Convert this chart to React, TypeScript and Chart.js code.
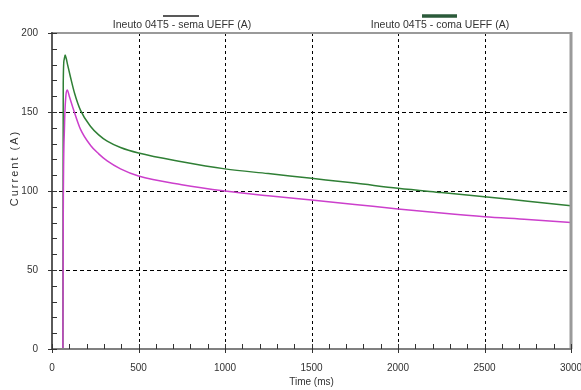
import React, { useEffect, useRef } from "react";
import { Chart, registerables } from "chart.js";

Chart.register(...registerables);

const legendLabels = ["Ineuto 04T5 - sema UEFF (A)", "Ineuto 04T5 - coma UEFF (A)"];
const xTitle = "Time (ms)";
const yTitle = "Current (A)";

const semTime = [60, 63, 65, 72, 80, 88, 100, 126, 165, 222, 270, 319, 396, 500, 750, 1000, 1250, 1500, 1750, 2000, 2250, 2500, 2750, 3000];
const semValues = [0, 0, 83, 140, 160, 164, 160, 151, 139, 129, 123.5, 119, 114, 109.5, 104, 100, 97, 94.3, 91.5, 88.6, 86, 83.7, 82, 80];

const comTime = [60, 63, 65, 70, 76, 82, 90, 107, 130, 165, 222, 270, 319, 396, 500, 750, 1000, 1250, 1500, 1750, 2000, 2250, 2500, 2750, 3000];
const comValues = [0, 0, 168, 183, 186, 184, 180, 172, 162, 151, 141, 135.5, 131.5, 127.5, 124, 118.5, 114, 111, 108, 105, 101.7, 99, 96.4, 93.5, 90.7];

const xMax = 3000;
const yMax = 200;
const xMajor = 500;
const yMajor = 50;
const xMinor = 100;
const yMinor = 10;

const FONT = "'Liberation Sans', Arial, sans-serif";

const framePlugin = {
  id: "frame",
  beforeDatasetsDraw(chart: any) {
    const { ctx, chartArea: a, scales } = chart;
    const xs = scales.x, ys = scales.y;
    ctx.save();
    ctx.strokeStyle = "#000";
    ctx.lineWidth = 1;
    ctx.setLineDash([3, 3]);
    for (let v = xMajor; v < xMax; v += xMajor) {
      const px = Math.round(xs.getPixelForValue(v)) + 0.5;
      ctx.beginPath();
      ctx.moveTo(px, a.top);
      ctx.lineTo(px, a.bottom);
      ctx.stroke();
    }
    ctx.setLineDash([4, 3]);
    for (let v = yMajor; v < yMax; v += yMajor) {
      const py = Math.round(ys.getPixelForValue(v)) + 0.5;
      ctx.beginPath();
      ctx.moveTo(a.left, py);
      ctx.lineTo(a.right, py);
      ctx.stroke();
    }
    ctx.restore();
  },
  afterDatasetsDraw(chart: any) {
    const { ctx, chartArea: a, scales } = chart;
    const xs = scales.x, ys = scales.y;
    ctx.save();
    // borders
    ctx.strokeStyle = "#9a9a9a";
    ctx.lineWidth = 2;
    ctx.beginPath();
    ctx.moveTo(a.left, a.top);
    ctx.lineTo(a.right, a.top);
    ctx.stroke();
    ctx.lineWidth = 3;
    ctx.beginPath();
    ctx.moveTo(a.right, a.top - 1);
    ctx.lineTo(a.right, a.bottom);
    ctx.stroke();
    ctx.strokeStyle = "#808080";
    ctx.lineWidth = 2;
    ctx.beginPath();
    ctx.moveTo(a.left, a.bottom);
    ctx.lineTo(a.right, a.bottom);
    ctx.stroke();
    ctx.strokeStyle = "#5a5a5a";
    ctx.beginPath();
    ctx.moveTo(a.left, a.top - 1);
    ctx.lineTo(a.left, a.bottom + 1);
    ctx.stroke();
    // ticks
    ctx.strokeStyle = "#333";
    ctx.lineWidth = 1;
    for (let v = 0; v <= xMax; v += xMinor) {
      const px = Math.round(xs.getPixelForValue(v)) + 0.5;
      const major = v % xMajor === 0;
      ctx.beginPath();
      ctx.moveTo(px, a.bottom - 5);
      ctx.lineTo(px, a.bottom + (major ? 4 : 0));
      ctx.stroke();
    }
    for (let v = 0; v <= yMax; v += yMinor) {
      const py = Math.round(ys.getPixelForValue(v)) + 0.5;
      const major = v % yMajor === 0;
      ctx.beginPath();
      ctx.moveTo(a.left - (major ? 4 : 0), py);
      ctx.lineTo(a.left + 5, py);
      ctx.stroke();
    }
    // axis titles
    ctx.fillStyle = "#333";
    ctx.font = `10px ${FONT}`;
    ctx.textAlign = "center";
    ctx.textBaseline = "middle";
    ctx.fillText(xTitle, xs.getPixelForValue(1500), 382);
    ctx.save();
    ctx.translate(15, 168);
    ctx.rotate(-Math.PI / 2);
    ctx.font = `11px ${FONT}`;
    (ctx as any).letterSpacing = "2px";
    ctx.fillText(yTitle, 0, 0);
    ctx.restore();
    // legend
    const items = [
      { cx: 182, color: "#222", w: 1.5, x0: 163, x1: 199 },
      { cx: 440, color: "#2b5a3a", w: 3.5, x0: 422, x1: 457 },
    ];
    items.forEach((it, i) => {
      ctx.strokeStyle = it.color;
      ctx.lineWidth = it.w;
      ctx.beginPath();
      ctx.moveTo(it.x0, 16);
      ctx.lineTo(it.x1, 16);
      ctx.stroke();
      ctx.fillStyle = "#333";
      ctx.font = `10.5px ${FONT}`;
      ctx.textAlign = "center";
      ctx.textBaseline = "middle";
      ctx.fillText(legendLabels[i], it.cx, 25);
    });
    ctx.restore();
  },
};

export default function App() {
  const ref = useRef<HTMLCanvasElement>(null);
  useEffect(() => {
    document.body.style.margin = "0";
    const canvas = ref.current!;
    const chart = new Chart(canvas, {
      type: "line",
      data: {
        datasets: [
          {
            label: legendLabels[0],
            data: semTime.map((t, i) => ({ x: t, y: semValues[i] })),
            borderColor: "#cc3fcc",
            borderWidth: 1.5,
            pointRadius: 0,
            cubicInterpolationMode: "monotone",
          },
          {
            label: legendLabels[1],
            data: comTime.map((t, i) => ({ x: t, y: comValues[i] })),
            borderColor: "#2f7f35",
            borderWidth: 1.5,
            pointRadius: 0,
            cubicInterpolationMode: "monotone",
          },
        ],
      },
      plugins: [framePlugin],
      options: {
        animation: false,
        responsive: false,
        layout: { padding: { top: 33, right: 10, left: 0, bottom: 0 } },
        plugins: { legend: { display: false }, tooltip: { enabled: false } },
        scales: {
          x: {
            type: "linear",
            min: 0,
            max: xMax,
            grid: { display: false },
            border: { display: false },
            ticks: {
              stepSize: xMajor,
              padding: 5,
              color: "#333",
              font: { size: 10, family: FONT },
              maxRotation: 0,
              callback: (v: any) => String(v),
            },
            afterFit: (s: any) => { s.height = 41; s.paddingRight = 0; s.paddingLeft = 0; },
          },
          y: {
            min: 0,
            max: yMax,
            grid: { display: false },
            border: { display: false },
            ticks: { stepSize: yMajor, padding: 6, color: "#333", font: { size: 10, family: FONT } },
            afterFit: (s: any) => { s.width = 52; s.paddingTop = 0; s.paddingBottom = 0; },
          },
        },
      },
    });
    return () => chart.destroy();
  }, []);
  return <canvas ref={ref} width={581} height={390} style={{ display: "block" }} />;
}
